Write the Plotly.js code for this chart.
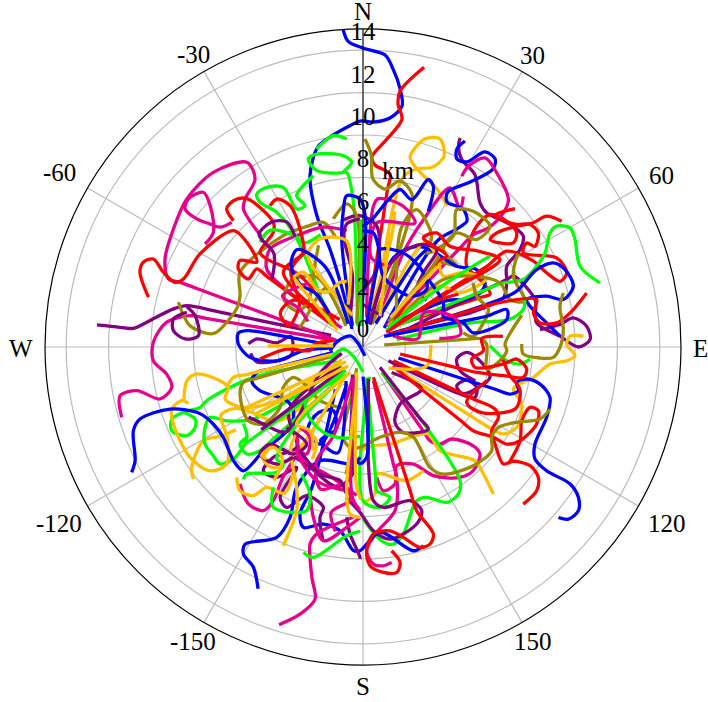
<!DOCTYPE html>
<html><head><meta charset="utf-8">
<script src="https://cdn.plot.ly/plotly-3.0.1.min.js"></script>
<style>html,body{margin:0;padding:0;background:#fff}</style></head>
<body><div id="chart" style="width:708px;height:702px"></div>
<script>
// Track positions: [km east, km north]
const blueTracks = [
[[-.52,.85],[-.85,2.26],[-1.56,4.62],[-2.17,6.18],[-2.5,8.07],[-2.12,9.45],[-1.4,10],[-.6,10.45],[-.14,10.66],[.47,10.61],[1.27,10.8],[1.84,11.37],[1.75,12.17],[1.42,13.11],[1.04,13.77],[0,14.1],[-.71,14.43],[-.94,15]],
[[1,.9],[3.5,5],[4.43,5.57],[4.9,5.94],[4.72,6.51],[3.96,6.84],[4,7.31],[5.05,7.78],[6.13,8.4],[6.23,8.87],[5.75,9.2],[4.9,8.73],[4.43,8.87],[4.43,9.34],[4.81,9.72]],
[[1.2,1],[4,2.2],[4.89,2.24],[5.52,2.55],[5.76,3.02],[5.36,3.65],[4.42,3.81],[3.16,4.6],[2.53,4.75],[1.43,4.2],[.33,1.06]],
[[9.29,.51],[8.66,1.14],[7.88,1.92],[7.72,2.24],[8.66,2.4],[9.45,2.24],[9.92,2.87],[9.53,3.65],[8.98,3.97],[8.19,3.65],[7.2,2.6],[5.5,1.9],[1.2,.6]],
[[3.08,6.4],[3.32,7.58],[3.08,7.9],[2.3,6.95],[1.75,7.43],[1.2,6.95],[.41,6],[-.14,5.54],[.49,5.38],[.72,4.75],[.96,3.34],[2.22,2.4],[3,2.71],[2.85,3.5],[1.9,4.44],[.8,4.6],[.72,4.1],[.17,1.1]],
[[3.08,3.18],[3.79,2.08],[3.79,1.45],[4.73,1.14],[5.2,.67],[6.78,1.29],[6.78,1.77],[5.84,1.45],[5.2,1.32],[1,.5]],
[[9.22,-8.04],[9.69,-8.12],[10.16,-7.72],[10.16,-7.09],[9.77,-6.46],[8.66,-5.84],[8.11,-5.28],[8.11,-4.58],[8.66,-3.32],[8.82,-2.38],[8.35,-1.75],[7.72,-1.51],[7.25,-1.67],[7.33,-2.06],[6.94,-2.22],[6.2,-1.98],[1.67,-.52]],
[[2.85,-9.37],[2.38,-9.61],[.8,-8.74],[-.14,-9.61],[-.45,-9.6],[-1.08,-8.67],[-1.87,-8.35],[-2.81,-8.51],[-2.97,-7.88],[-2.4,-6.6],[-1.3,-2]],
[[0,-1.4],[.17,-5.2],[-.14,-5.5],[-.5,-5],[-.4,-1.4]],
[[-10.91,-5.91],[-10.75,-5.36],[-10.83,-3.95],[-10.52,-3.4],[-9.1,-2.93],[-7.84,-3.08],[-7.22,-3.48],[-6.59,-4.26],[-6.11,-5.36],[-5.64,-5.84],[-4.7,-4.9],[-3.44,-3.79],[-3.28,-3],[-3.6,-2.53],[-4.86,-2.06],[-5.25,-1.59],[-5,-1.2],[-4.4,-1.04],[-1.4,-.25]],
[[-4.95,-11.4],[-5.17,-10.39],[-5.64,-9.77],[-5.56,-9.3],[-4.07,-8.98],[-3.44,-8.04],[-3.13,-6.62],[-2.03,-5.36],[-.45,-5.52],[-.14,-5.2]],
[[-.77,-1.75],[-2,-4.58],[-2.6,-3.9],[-2.1,-3.1],[-1.4,-3],[-1.3,-3.9],[-2,-4.4],[-1.2,-5],[-.8,-1.6]],
[[-.5,1],[-1,5],[-.92,6.51],[-.77,7.14],[-.14,6.98],[.1,6.2],[-.1,1]],
[[-5.88,.14],[-5.33,-.49],[-4.07,-.65],[-2.81,-.17],[-1.5,0],[-3.9,.54],[-5.48,.77],[-5.88,.65],[-5.88,.14]],
[[-1.56,-.19],[-1.23,.24],[-.61,.52],[-.28,.24],[.09,-.42]],
[[-.7,1.1],[-1.8,3.8],[-3.1,4.6],[-3.4,3.9],[-3,3],[-2.2,2.5],[-1.6,1.6]],
[[.6,1.1],[2.5,4.1],[3,4.6]]
];
const redTracks = [
[[.19,1.18],[1.15,7.4],[1.27,8.16],[.57,8.58],[.42,8.96],[1.13,9.81],[1.84,10.75],[1.65,11.46],[1.75,12.08],[2.88,13.2]],
[[1.2,.9],[5.5,2.33],[6,2.5],[5.5,3.2],[4.89,3.81],[4.97,4.75],[5.36,5.7],[6,6.25],[6.78,5.93],[7.25,5.38],[7.09,4.91],[6.46,4.91],[6,5.07],[6.31,5.38],[7.25,5.7],[8,5.85],[8.66,6.17],[9.37,5.93]],
[[1.27,.82],[4.58,3.02],[5.84,3.8],[6.78,4.52],[8.04,4.05],[8.66,3.5],[9.29,3.1],[9.61,3.5],[9.14,4.2],[7.56,4.44],[7.72,4.91],[8.11,4.75],[8.27,5.38],[7.88,5.78],[7.17,5.8],[6.2,6.2],[7.17,6.53]],
[[1.1,.7],[4.2,2.7],[6.46,4.12],[5.44,4.52],[4.1,4.75],[3.48,5.38],[2.85,5.15],[3.95,4.3],[3.48,4],[1.4,1.1]],
[[1.3,.6],[5.5,1.85],[6,2],[8.19,2.24],[8.04,1.61],[8.35,1.14],[9.14,1.14],[9.77,1.61],[10.55,2.55]],
[[1.43,-.65],[4.6,-2.16],[5.2,-2.45],[6.23,-2.93],[6.39,-3.32],[6.07,-3.95],[6.23,-4.58],[6.62,-5.52],[7.09,-5.39],[7.88,-5.6],[8.27,-6.15],[8.19,-6.78],[7.56,-7.41]],
[[1.4,-.9],[4.6,-3.47],[5.2,-3.95],[6.15,-4.26],[6.78,-4.58],[7.41,-4.42],[8.19,-3.63],[8.27,-3],[7.88,-2.85],[7.49,-3.48],[7.41,-4.42],[6.86,-5.52]],
[[1.75,-.33],[4.8,-1.07],[5.36,-1.2],[6.62,-1.35],[7.56,-1.43],[7.72,-1.04],[7.25,-.57],[6.62,-.8],[5.28,-.96],[5.13,-.57],[5.68,-.17],[5.6,.4],[6.6,.5]],
[[5.84,-1.59],[4.89,-2.61],[5.6,-3.1],[7.2,-2.9],[7.4,-2],[6.9,-1.3],[6.6,-.6]],
[[.49,-1.43],[2.2,-6.7],[2.53,-7.72],[3.32,-8.82],[3.16,-9.3],[2.69,-9.45],[1.9,-8.98],[1.27,-8.67],[.49,-8.82],[.17,-9.61],[.33,-10.32],[.96,-10.63],[1.59,-10.63],[1.75,-10.16],[1.35,-9.61]],
[[-1.4,1.01],[-4.5,3.3],[-5.01,3.68],[-5.41,3.21],[-5.88,3.68],[-5.8,4.08],[-5.01,4],[-5.48,4.94],[-6.11,5.49],[-7.69,4.39],[-8.47,3.21],[-8.87,3.05],[-9.42,3.53],[-9.89,4.15],[-10.36,4],[-10.52,3.53],[-10.12,2.35]],
[[-1.3,1.1],[-2.97,3.37],[-4.54,4.15],[-4.86,4.47],[-4.23,5.41],[-4.23,5.88],[-5.48,7],[-6.11,6.9],[-6.43,6.51],[-6.11,5.96]],
[[-1.3,1],[-3.76,3.53],[-2.81,4.47],[-2.89,5.25],[-3.44,6.67],[-4.07,6.98],[-4.38,6.67]],
[[-1.4,.3],[-2.26,.14],[-2.5,-.17],[-3.6,-.1],[-4.86,-.57]],
[[-1.1,1.3],[-3.3,2.2],[-3.9,1.6],[-3.5,1],[-3,2],[-3.4,3.6],[-2.7,4.5]],
[[1.3,.9],[3.3,2.1],[4.5,2.5]]
];
const greenTracks = [
[[-.25,1],[-.3,3],[-.45,6.8],[-.77,8.24],[-.93,8.24],[-.53,8.71],[-.93,9.03],[-2.18,9.1],[-2.58,8.87],[-2.18,8.32],[-1.4,8.2],[-.93,8.24]],
[[-.77,9.81],[-1.4,9.97],[-2.19,9.34]],
[[1.1,.8],[5.9,2.75],[6.5,3],[7.56,3.18],[8.19,3.81],[8.59,4.44],[8.82,5.38],[9.14,5.7],[9.77,5.62],[10,5.07],[10.24,3.81],[11.18,3.02]],
[[1.59,.35],[5.05,1.14],[6.9,1.3],[7.56,1.77],[7.64,2.24]],
[[5.99,.06],[6.78,-.65],[7.41,-.8],[7.88,-.57]],
[[.88,-1.2],[3,-3.79],[4.58,-6.31],[4.5,-6.94],[3.95,-7.33],[3,-7.09],[2.53,-7.25],[1.9,-8.82],[1.43,-9.3],[.88,-9.14],[0,-8.1]],
[[.17,-1.43],[.6,-6.2],[.65,-6.78],[1.27,-7.09],[.8,-7.56],[0,-7.25],[.3,-1.4]],
[[-1.24,-.65],[-5.17,-1.43],[-7.37,-2.53],[-7.68,-2.85],[-8.47,-3.08],[-9.02,-3.4],[-9.02,-3.95],[-8.3,-4.18],[-7.92,-3.79],[-7.92,-3.4],[-8.47,-3.08]],
[[-1,-.9],[-5.2,-3.4],[-6.43,-3.48],[-7.22,-3.32],[-7.45,-3.79],[-7.45,-4.58],[-7.06,-5.13],[-6.74,-5.52],[-6.03,-5.21],[-5.48,-4.26],[-5.64,-3.63]],
[[-.93,-1.35],[-4.3,-4.4],[-4.86,-4.89],[-5.48,-5.05],[-5.8,-4.58],[-5.48,-4.26]],
[[-1.5,1],[-3.2,5.25],[-4.07,6.35],[-4.86,6.83],[-5.01,7.22],[-4.54,7.53],[-3.76,7.53],[-3.13,6.51],[-2.73,6.67],[-3.13,7.14],[-2.34,8.08]],
[[-4.85,4.94],[-4.4,5.5],[-3.2,5.25],[-2.8,4.9],[-2,5.3]],
[[-4.23,-6.62],[-4.23,-7.57],[-2.66,-7.72],[-2.5,-6.94],[-2.9,-6]],
[[-2.81,-9.69],[-2.34,-9.92],[-.77,-8.9],[-.14,-8.7]],
[[-1.56,-.57],[-.94,-.09],[-.47,-.42],[0,-1.18]],
[[-.1,1],[-.1,6]],
[[-.7,-1.3],[-2.7,-2.5],[-2.6,-3.2],[-1.9,-4],[-.9,-4.3],[-.14,-4.2]],
[[-5.64,-6.23],[-5.48,-5.99],[-4.07,-5.91],[-3.76,-5.52],[-4.07,-5.28],[-3,-3.5],[-1,-1.5]],
[[-.8,-1.1],[-5.6,-4.6]],
[[1.2,.95],[3.9,3],[6,4.3]]
];
const orangeTracks = [
[[3.96,6.65],[3.49,7.45],[2.55,8.4],[2.22,8.96],[2.92,9.81],[3.63,9.81],[3.82,9],[3.3,8.49],[2.55,8.4],[1.89,8.02],[.57,1.18]],
[[.2,1.1],[1.35,5.2],[1.5,6.4]],
[[.8,1.4],[2.9,4.9],[3.48,4.3],[3.79,3.34],[4.58,3.5],[5.52,3.34],[5.8,3.2],[4.58,2.55],[3.63,2.87],[1.2,1]],
[[10.4,.51],[9.77,.51],[9.61,.12],[10,-.41],[9.61,-.65],[8.82,-.8],[8.04,-1.43],[7.09,-1.98],[7.49,-2.69],[7.25,-3.79],[6.62,-4.1],[5.68,-3.63],[5,-3.2],[1.59,-1.04]],
[[6.15,-6.93],[5.68,-5.99],[5.28,-5.36],[3.63,-4.89],[3.08,-4.1],[1.27,-4.58],[.49,-4.66],[-.14,-4.89]],
[[2.85,-5.84],[2.06,-6.3],[.65,-5.99],[.57,-6.9],[0,-7.4]],
[[1.2,-1],[3,-.9],[3.2,.1]],
[[-8,-6.23],[-8.08,-5.68],[-7.53,-4.42],[-6.7,-4.2],[-6,-3.9]],
[[-8.24,-2.66],[-8.55,-2.53],[-9.02,-2.93],[-8.94,-3.63],[-8.16,-5.21],[-7.21,-5.84],[-6.43,-5.52],[-6.4,-4.3],[-6.7,-3.2],[-6,-2.9],[-5.2,-3.1],[-4,-3.5],[-1,-1]],
[[-8.45,-2.53],[-8.3,-1.59],[-7.84,-1.27],[-6.74,-1.59],[-6.35,-1.9],[-6.5,-2.45],[-5.64,-2.85],[-4,-2.5],[-1,-.6]],
[[-6.43,-1.9],[-6.11,-1.43],[-5.5,-1.3],[-1.4,-.33]],
[[-5.96,-6.15],[-5.8,-6.78],[-5.17,-7.01],[-4.54,-6.62],[-3.7,-6.9],[-3.3,-6]],
[[-3.76,-9.37],[-3.13,-7.72],[-3.13,-6.62],[-3.4,-4.7],[-2.9,-3.9],[-2.2,-4.4],[-2.4,-5.3]],
[[-.8,-1.3],[-3.1,-4.9],[-4.2,-5.7],[-4.7,-5.3],[-4.3,-4.6]],
[[-.5,1.5],[-2.5,4],[-2.58,4.47],[-2.03,5.1],[-.77,5],[-.7,2]],
[[-3.28,3.3],[-2.81,3.53],[-2.18,2.74],[-1.7,2.58],[-1.08,3.05],[-.77,3.1]],
[[-3.28,3.3],[-2.9,2.8],[-1.2,.8]],
[[-1.4,.05],[-4.5,.05]],
[[-.3,-1.2],[-.3,-6.6],[-.1,-7.2]],
[[-.6,-1.2],[-3.13,-3.63],[-2.5,-3.95],[-2.34,-4.89]],
[[-.3,-1.9],[-.77,-6.93],[-.61,-7.88],[-.14,-8.04]],
[[-4.54,-5.28],[-4.78,-5.13],[-4.23,-4.73],[-3.8,-5.3],[-4.2,-6.3]],
[[-.7,-.9],[-5.17,-3.2]],
[[-.8,-.7],[-5.6,-2.9]],
[[1.3,1.4],[3.5,3.8]],
[[.8,1.45],[1.27,5.4]]
];
const purpleTracks = [
[[1.43,.67],[4.5,1.47],[5.05,1.61],[6.62,2.32],[6.78,3.02],[6.78,3.81],[7.41,4.6],[7.56,5.23],[6.94,5.78],[5.83,6.33],[5.52,6.8],[5.28,8.13],[4.66,8.84],[4.5,9.47],[4.58,9.86]],
[[1.4,.5],[6.2,2.9],[6.78,3.18],[7.09,3.34],[8.11,2.24],[8.19,1.14],[9.29,.51],[10.16,0],[10.71,.35],[10.55,.98],[9.92,1.37],[9.29,1.06],[8.35,.82]],
[[.3,1.1],[1.43,4.1],[2.69,4.83],[3.48,4.6],[2.85,3.5],[2.53,2.7],[3,2.2]],
[[.96,1.45],[-.14,2.24],[.65,3.65],[.65,5.7],[-.14,6.2],[-.9,6]],
[[1.2,-.65],[4.58,-2.22],[5.28,-2.38],[5.36,-1.9],[4.89,-1.56],[4.42,-1.83],[4.7,-2.2],[5.99,-1.43],[5.52,-.65],[4.89,-.25],[4.42,-.57],[4.58,-1.12],[5.3,-1.6]],
[[.8,-.96],[2.7,-3.38],[3.08,-3.87],[1.9,-4.03],[1.51,-3.56],[1.75,-2.69],[2.77,-1.98],[1.35,-1.2]],
[[.25,-1.5],[.25,-4.8],[.25,-5.36],[.49,-7.25],[.96,-7.57],[2.22,-7.25],[2.77,-7.72],[2.53,-8.35],[1.27,-9.06],[.49,-8.67],[-.14,-7.8],[-.8,-7.1]],
[[-12.55,1.04],[-11.46,.93],[-10.83,.88],[-10.2,1.17],[-8.94,1.8],[-8.3,1.95],[-7,1.7],[-6.3,1.55],[-1.5,.55]],
[[-8.31,1.64],[-8.94,1.33],[-8.94,.77],[-8.39,.38],[-7.76,.54],[-7.92,1.48],[-8.31,1.9]],
[[-1.08,-.88],[-3.5,-3],[-3.13,-4.73],[-4.23,-5.2],[-4.7,-5.84],[-4.07,-6.15],[-3.13,-5.68],[-3.91,-7.09],[-3.6,-7.57],[-2.66,-7.01],[-1.87,-7.56],[-2.03,-8.04],[-1.9,-9.1]],
[[-.77,-8.03],[-.61,-8.82],[-.14,-9.92],[-.14,-10]],
[[-.5,-1.3],[-.5,-5.5],[-.5,-6],[-1.2,-6.6],[-2.6,-5.6],[-3.8,-4.8]],
[[-5.41,.15],[-5,.38],[-4.07,.2],[-3.4,.5],[-3.4,-.4],[-5,-.7],[-5.3,-.3]],
[[-.14,6.04],[-.77,5.8],[-.9,5.2],[-.5,3.4],[-.6,1.5]],
[[-4.3,3.2],[-4.2,4.4],[-4.9,5.3],[-4.3,5.9],[-3.6,5.9],[-3.2,5.2]],
[[-1,-.3],[-2,-1.2],[-3.6,-4],[-4.7,-3.63],[-5.4,-3.3]],
[[-3.6,-3.79],[-2.66,-4.58],[-3.28,-5.05],[-4.38,-4.58],[-4.86,-5.05],[-4.07,-5.52],[-3.3,-5.2]],
[[-2.97,-4.89],[-2.03,-5.99],[-1.08,-6.3],[-.8,-6.9]],
[[-.9,-1],[-4.8,-3.9]]
];
const pinkTracks = [
[[.8,1.45],[1.9,4.44],[2.85,6],[4.1,7.5],[4.58,6.48],[4.73,7.1]],
[[1.1,1],[4.7,4.8],[5.2,5.3],[5.91,5.62],[6.62,6.33],[6.86,6.95],[6.31,8.21],[5.76,8.92],[4.97,8.53],[4.66,8.06]],
[[.17,1.4],[.25,4],[.49,6.64],[.72,7],[1.9,6.64],[2.45,5.85],[.65,5.85],[.4,4.2],[1.3,3.8]],
[[.96,-1.28],[2.8,-3.9],[3.16,-4.42],[3.63,-4.58],[4.18,-4.34],[5.2,-4.66],[5.52,-5.05],[5.2,-5.83],[4.58,-6.15],[3.32,-6.07],[2.38,-5.52],[1.59,-5.6],[1.51,-6.46],[.96,-6.78],[.65,-6.15]],
[[1.35,-10.16],[.96,-10.32],[.49,-10.24],[.17,-9.61],[.65,-8.74],[1.51,-7.72],[1.59,-6.15],[1.45,-5.6],[.49,-1.59]],
[[-11.38,-3.32],[-11.46,-2.3],[-10.67,-2.06],[-9.57,-2.45],[-9.02,-1.9],[-9.26,-1.28],[-9.89,-.65],[-9.89,.22],[-9.26,1.17],[-8.16,1.48],[-7.4,1.35],[-1.24,.3]],
[[-7.45,4.86],[-7.06,5.41],[-7.21,6.67],[-7.53,7.3],[-8.24,6.98],[-8.39,6.51],[-7.84,6.04],[-7.21,5.8],[-6.74,5.65],[-6.19,5.88]],
[[-1.24,.3],[-7.9,2.78],[-8.63,3.05],[-9.18,3.21],[-9.34,4.15],[-8.94,5.57],[-8.31,6.98],[-7.06,8.24],[-5.48,8.71],[-5.09,7.93],[-5.56,6.98],[-5.64,6.51],[-4.7,5.1]],
[[-1,.9],[-3.5,2.6],[-4.54,3.68],[-4.38,4.62],[-3.13,5.25],[-1.87,5.65],[-.77,5.49]],
[[-3.96,-13.1],[-2.97,-12.6],[-2.26,-11.9],[-2.4,-10.94],[-2.5,-9.92],[-2.5,-9.3],[-2.19,-8.82],[-.45,-8.03]],
[[-5.8,-6.46],[-5.41,-7.4],[-4.7,-7.72],[-4.23,-7.25],[-3.8,-6.2],[-3.2,-5.2]],
[[-2.5,-6.78],[-2.34,-8.04],[-1.87,-9.14],[-.77,-8.51],[-.14,-8.04]],
[[-.5,-1.5],[-1.4,-4.2],[-2.2,-5.4],[-2,-6.7],[-.9,-6.5],[-.6,-7.2],[-1.5,-7.8],[-1.3,-8.7]],
[[-3.1,-4.2],[-2.9,-5.2],[-1.4,-6.2],[-.3,-7]],
[[-.4,-1.4],[-.5,-7.1],[-.14,-7.7]],
[[-2.6,3],[-3.8,2.4],[-3,1.8],[-2.6,1.2]],
[[-2.97,-3.79],[-2.5,-4.26],[-2.66,-5.05],[-3.13,-4.89],[-2.19,-6.31],[-.77,-6.78]],
[[1.5,.5],[2.6,.4],[2.85,1.6],[4.3,1.4],[4.6,.6],[3.6,.4]]
];
const oliveTracks = [
[[.42,1.08],[1.75,4.62],[2.22,6.27],[2.31,7.22],[1.75,7.83],[1.04,7.45],[.47,7.92],[.38,9.1],[.09,9.81]],
[[1.4,1],[3.63,3.97],[4.42,3.81],[3.79,4.6],[4.42,5.38],[5.36,5.07],[5.99,5.7],[5.2,6.4],[4.42,6.48],[4.26,5.23],[3,4.44],[3.24,5.23],[2.53,6.48],[1.8,5.6],[1.6,1.2]],
[[1.3,.9],[3.79,3.18],[5.2,3.34],[6.46,3.02],[6.94,2.24],[7.64,2.16],[7.09,3.34],[7.3,4.4]],
[[5.2,3.02],[5.36,2.4],[5.91,1.77],[5.68,1.14],[5.2,.5],[4.73,.67]],
[[7.49,.14],[7.56,-.33],[8.35,-.52],[8.98,-.49],[9.29,-.02],[9.45,.82],[9.29,1.92],[9.45,2.55]],
[[1,.1],[5,.37],[5.5,.4],[5.83,.14],[5.84,-1.04],[6.46,-.65],[6.78,-.17],[6.7,.14],[7.49,1.5]],
[[8.82,-2.93],[8.35,-3.4],[7.25,-3.55],[6.39,-3.79],[6.07,-4.26],[6.07,-4.89],[5.2,-5.6],[3.79,-6],[3.16,-5.68],[2.38,-4.26],[1.75,-4.03],[.8,-4.26],[-.14,-4.73],[-.61,-4.73],[-.93,-4.26],[-.45,-1.9],[-.3,-1]],
[[-8.71,2.11],[-8.16,1],[-7.21,.62],[-6.9,.7],[-5.96,1.8],[-5.8,2.43],[-5.8,3.53],[-3.76,5.25],[-2.6,5.7],[-1.87,5.88],[-1.3,5.2]],
[[-1.4,6.04],[-.77,6.75],[-.3,6.2],[-.3,1.1]],
[[-1.08,-.33],[-5.1,-1.5],[-5.64,-1.67],[-5.8,-2.22],[-5.41,-3.48],[-4.7,-3.63],[-3.91,-2.85],[-3.76,-1.9],[-3.28,-1.43],[-2.66,-1.83],[-2.03,-2.53],[-.77,-2.93]],
[[-.8,1],[-2.2,3.3],[-3.4,3.1],[-3.7,2.2],[-3.1,1.7],[-2.6,2.1],[-2.3,3.7],[-2.1,4.8]],
[[-.5,1.1],[-1.7,2.8],[-2.8,1.2],[-3,.9]],
[[-.3,-1.4],[-.55,-4.6],[-.8,-6]],
[[1.2,1.2],[3.2,3.7],[3.6,4.3]]
];
const trackColors = {blue:'#0000ff', red:'#ff0000', green:'#00ff00', orange:'#ffbf00', purple:'#800080', pink:'#e6008c', olive:'#9a8a00'};
const radialTicks = [0,2,4,6,8,10,12,14];
const angleTicks = [0,30,60,90,120,150,180,210,240,270,300,330];
const angleLabels = ['N','30','60','E','120','150','S','-150','-120','W','-60','-30'];
const labelRadii = [337,338,345,337,351,339,338,339,351,342,350,339];
const unitLabel = 'km';
const unitEast = 1.65, unitNorth = 8.2;

const toR = p => Math.hypot(p[0], p[1]);
const toTheta = p => (Math.atan2(p[0], p[1]) * 180 / Math.PI + 360) % 360;
const groups = [[blueTracks,'blue'],[redTracks,'red'],[greenTracks,'green'],[orangeTracks,'orange'],[purpleTracks,'purple'],[pinkTracks,'pink'],[oliveTracks,'olive']];
const traces = [];
const longest = Math.max(...groups.map(g => g[0].length));
for (let i = 0; i < longest; i++) {
  for (const [tracks, name] of groups) {
    if (!tracks[i]) continue;
    traces.push({type:'scatterpolar', mode:'lines', r:tracks[i].map(toR), theta:tracks[i].map(toTheta),
      line:{color:trackColors[name], width:3.3, shape:'spline', smoothing:0.9}, hoverinfo:'skip', showlegend:false});
  }
}
const serif = '"Liberation Serif", serif';
traces.push({type:'scatterpolar', mode:'text', r:radialTicks.map(v => v + 0.18), theta:radialTicks.map(() => 0),
  text:radialTicks.map(String), textposition:'top center', textfont:{family:serif, size:25, color:'#000'},
  hoverinfo:'skip', showlegend:false, cliponaxis:false});
traces.push({type:'scatterpolar', mode:'text', r:[Math.hypot(unitEast, unitNorth)], theta:[toTheta([unitEast, unitNorth])],
  text:[unitLabel], textposition:'middle center', textfont:{family:serif, size:25, color:'#000'},
  hoverinfo:'skip', showlegend:false, cliponaxis:false});

const W = 708, H = 702, cx = 363, cy = 348;
const annotations = angleLabels.map((t, i) => {
  const a = angleTicks[i] * Math.PI / 180;
  return {text:t, showarrow:false, xref:'paper', yref:'paper', xanchor:'center', yanchor:'middle',
    x:(cx + labelRadii[i] * Math.sin(a)) / W, y:1 - (cy - labelRadii[i] * Math.cos(a)) / H,
    font:{family:serif, size:25, color:'#000'}};
});
const layout = {
  width:W, height:H, margin:{l:0,r:0,t:0,b:0}, paper_bgcolor:'#fff', showlegend:false, annotations,
  polar:{
    domain:{x:[45/W, 681/W], y:[37/H, 673/H]},
    bgcolor:'#fff',
    radialaxis:{range:[0,15], tickvals:radialTicks, showticklabels:false, ticks:'', angle:90, showline:true, linecolor:'#000', linewidth:1, gridcolor:'#bbbbbb', gridwidth:1.2},
    angularaxis:{rotation:90, direction:'clockwise', tickmode:'array', tickvals:angleTicks, showticklabels:false, ticks:'', showline:true, linecolor:'#000', linewidth:1.2, gridcolor:'#bbbbbb', gridwidth:1.2}
  }
};
Plotly.newPlot('chart', traces, layout, {displayModeBar:false, staticPlot:true});
</script></body></html>
